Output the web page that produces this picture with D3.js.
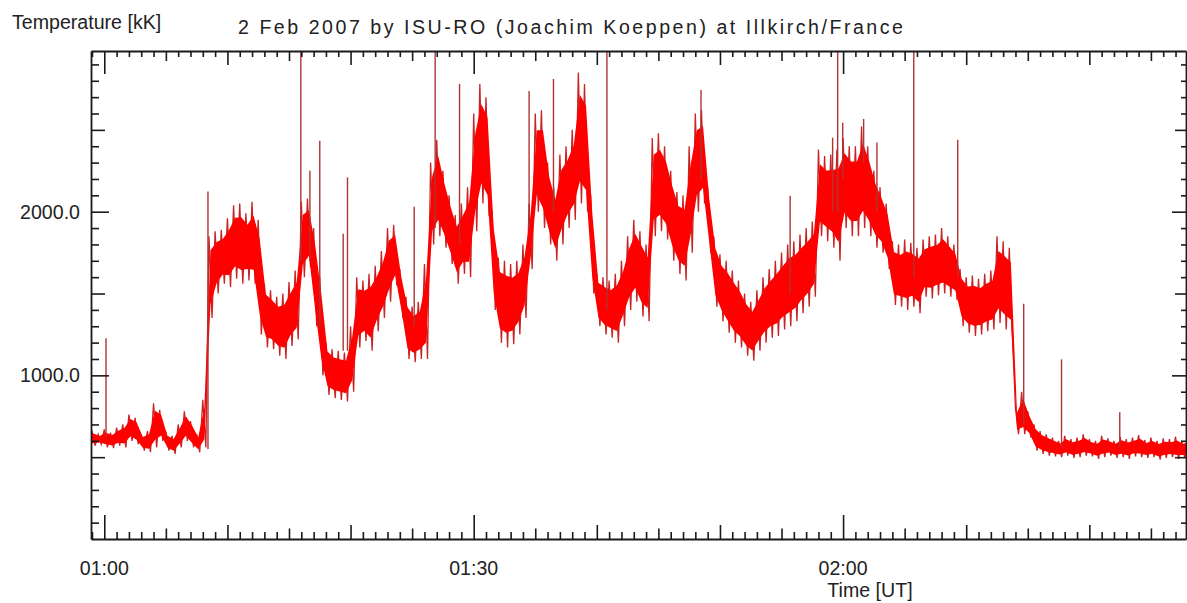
<!DOCTYPE html>
<html>
<head>
<meta charset="utf-8">
<script src="https://cdn.jsdelivr.net/npm/d3@7"></script>
<style>
  html, body { margin: 0; padding: 0; background: #fff; }
  svg { display: block; }
  text { font-family: Arial, "Liberation Sans", sans-serif; fill: #222; }
</style>
</head>
<body>
<svg id="chart" width="1187" height="603"></svg>
<script>
// Sampling instants, minutes after 00:00 UT (every 30 s)
const sampleTimes = [
  58.5, 59.0, 59.5, 60.0, 60.5, 61.0, 61.5, 62.0, 62.5, 63.0, 63.5, 64.0, 64.5, 65.0, 65.5, 66.0, 66.5, 67.0, 67.5, 68.0,
  68.5, 69.0, 69.5, 70.0, 70.5, 71.0, 71.5, 72.0, 72.5, 73.0, 73.5, 74.0, 74.5, 75.0, 75.5, 76.0, 76.5, 77.0, 77.5, 78.0,
  78.5, 79.0, 79.5, 80.0, 80.5, 81.0, 81.5, 82.0, 82.5, 83.0, 83.5, 84.0, 84.5, 85.0, 85.5, 86.0, 86.5, 87.0, 87.5, 88.0,
  88.5, 89.0, 89.5, 90.0, 90.5, 91.0, 91.5, 92.0, 92.5, 93.0, 93.5, 94.0, 94.5, 95.0, 95.5, 96.0, 96.5, 97.0, 97.5, 98.0,
  98.5, 99.0, 99.5, 100.0, 100.5, 101.0, 101.5, 102.0, 102.5, 103.0, 103.5, 104.0, 104.5, 105.0, 105.5, 106.0, 106.5, 107.0, 107.5, 108.0,
  108.5, 109.0, 109.5, 110.0, 110.5, 111.0, 111.5, 112.0, 112.5, 113.0, 113.5, 114.0, 114.5, 115.0, 115.5, 116.0, 116.5, 117.0, 117.5, 118.0,
  118.5, 119.0, 119.5, 120.0, 120.5, 121.0, 121.5, 122.0, 122.5, 123.0, 123.5, 124.0, 124.5, 125.0, 125.5, 126.0, 126.5, 127.0, 127.5, 128.0,
  128.5, 129.0, 129.5, 130.0, 130.5, 131.0, 131.5, 132.0, 132.5, 133.0, 133.5, 134.0, 134.5, 135.0, 135.5, 136.0, 136.5, 137.0, 137.5, 138.0,
  138.5, 139.0, 139.5, 140.0, 140.5, 141.0, 141.5, 142.0, 142.5, 143.0, 143.5, 144.0, 144.5, 145.0, 145.5, 146.0, 146.5, 147.0, 147.5, 148.0
];

// Highest temperature in each 30 s interval [kK]
const upperValues = [
  650, 660, 640, 670, 650, 680, 700, 760, 740, 640, 660, 830, 790, 650, 630, 700, 780, 720, 640, 850,
  1850, 1880, 1890, 1960, 2040, 2050, 1990, 2060, 1950, 1560, 1520, 1480, 1500, 1570, 1640, 2060, 2080, 1900, 1600, 1200,
  1160, 1150, 1140, 1300, 1600, 1580, 1620, 1670, 1760, 1900, 1920, 1650, 1480, 1420, 1450, 1680, 2300, 2440, 2250, 2100,
  1980, 2050, 2150, 2600, 2780, 2700, 2000, 1720, 1700, 1680, 1700, 1800, 2050, 2600, 2620, 2300, 2150, 2350, 2400, 2500,
  2850, 2780, 2100, 1620, 1600, 1580, 1620, 1700, 1850, 1950, 1880, 1800, 2450, 2480, 2400, 2250, 2120, 2100, 2400, 2600,
  2620, 2150, 1850, 1740, 1700, 1640, 1580, 1500, 1450, 1520, 1600, 1650, 1700, 1750, 1800, 1820, 1860, 1900, 1940, 2380,
  2340, 2350, 2380, 2450, 2400, 2400, 2520, 2400, 2250, 2150, 2050, 1820, 1800, 1830, 1810, 1780, 1830, 1850, 1860, 1900,
  1850, 1800, 1650, 1600, 1610, 1590, 1620, 1640, 1850, 1820, 1780, 800, 900, 780, 700, 660, 640, 620, 600, 630,
  610, 620, 640, 610, 600, 630, 615, 600, 625, 610, 620, 635, 605, 620, 600, 615, 610, 625, 600, 610
];

// Lowest temperature in each 30 s interval [kK]
const lowerValues = [
  570, 570, 580, 560, 555, 570, 560, 600, 580, 540, 530, 560, 600, 540, 520, 560, 600, 560, 530, 560,
  1350, 1500, 1560, 1540, 1590, 1560, 1580, 1560, 1250, 1170, 1160, 1120, 1100, 1180, 1220, 1600, 1660, 1300, 1000, 880,
  860, 850, 840, 900, 1170, 1210, 1150, 1270, 1350, 1450, 1550, 1350, 1100, 1080, 1100, 1100, 1800, 1850, 1780, 1680,
  1560, 1620, 1600, 1880, 2050, 1980, 1400, 1200, 1170, 1190, 1250, 1350, 1650, 2000, 1900, 1800, 1700, 1800, 1900, 1950,
  2050, 2000, 1500, 1300, 1250, 1230, 1200, 1300, 1400, 1450, 1360, 1330, 1850, 1880, 1830, 1700, 1620, 1580, 1750, 2000,
  2050, 1750, 1420, 1330, 1260, 1200, 1170, 1120, 1090, 1150, 1200, 1230, 1240, 1280, 1300, 1330, 1380, 1420, 1480, 1850,
  1820, 1780, 1700, 1900, 1850, 1850, 1900, 1850, 1780, 1750, 1650, 1430, 1420, 1400, 1420, 1380, 1480, 1470, 1490, 1500,
  1480, 1460, 1300, 1260, 1240, 1250, 1270, 1280, 1320, 1280, 1250, 640, 640, 620, 540, 520, 510, 505, 500, 510,
  495, 500, 510, 505, 490, 500, 510, 495, 500, 490, 505, 500, 495, 500, 485, 495, 500, 490, 495, 500
];

// Isolated short-lived excursions: time [min], level they start from and peak [kK]
const spikeTimes = [60.14, 68.42, 75.96, 76.70, 77.50, 79.40, 79.75, 85.17, 86.87, 88.85, 94.50, 96.48, 100.82,
                    108.46, 115.70, 119.15, 119.56, 119.97, 121.67, 122.75, 125.74, 129.31, 134.67, 137.74, 142.47];
const spikeBases = [620, 550, 1700, 1700, 1300, 1150, 1150, 1300, 1900, 1800, 1900, 2000, 1400,
                    2200, 1500, 2000, 2000, 2200, 2300, 2000, 1600, 1600, 700, 560, 560];
const spikePeaks = [1226, 2124, 2985, 2250, 2433, 1865, 2210, 2030, 2985, 2781, 2738, 2811, 2985,
                    2744, 2098, 2452, 2985, 2543, 2567, 2423, 2985, 2439, 1437, 1098, 775];

// Axis annotations
const timeLabelMinutes = [60, 90, 120];
const timeLabels = ["01:00", "01:30", "02:00"];
const valueLabelTicks = [1000, 2000];
const valueLabels = ["1000.0", "2000.0"];

const chartTitle = "2 Feb 2007 by ISU-RO (Joachim Koeppen) at Illkirch/France";
const yTitle = "Temperature [kK]";
const xTitle = "Time [UT]";

// ---- layout ----
const plot = { left: 91, right: 1186, top: 51, bottom: 539 };
const svg = d3.select("#chart");

const x = d3.scaleLinear().domain([58.92, 147.85]).range([plot.left, plot.right]);
const y = d3.scaleLinear().domain([0, 2982]).range([plot.bottom, plot.top]);

svg.append("defs").append("clipPath").attr("id", "plotClip")
  .append("rect")
  .attr("x", plot.left).attr("y", plot.top)
  .attr("width", plot.right - plot.left).attr("height", plot.bottom - plot.top);

const data = sampleTimes.map((t, i) => ({ t, hi: upperValues[i], lo: lowerValues[i] }));
const halfStep = 0.25;
const coreInset = 0.17;   // share of each interval's range drawn as thin excursions only

const layer = svg.append("g").attr("clip-path", "url(#plotClip)");

// The trace swinging between the extremes of each interval
const zig = [];
data.forEach(d => {
  zig.push([d.t, d.hi]);
  zig.push([d.t + halfStep, d.lo]);
});
layer.append("path")
  .datum(zig)
  .attr("fill", "none")
  .attr("stroke", "#c82222")
  .attr("stroke-width", 1.3)
  .attr("d", d3.line().x(d => x(d[0])).y(d => y(d[1])));

// Dense core of the fluctuations
layer.append("path")
  .datum(data)
  .attr("fill", "#ff0000")
  .attr("d", d3.area()
    .x(d => x(d.t + halfStep / 2))
    .y0(d => y(d.lo + (d.hi - d.lo) * coreInset))
    .y1(d => y(d.hi - (d.hi - d.lo) * coreInset)));

// Spikes
layer.selectAll("line.spike")
  .data(spikeTimes.map((t, i) => ({ t, base: spikeBases[i], peak: spikePeaks[i] })))
  .join("line")
  .attr("class", "spike")
  .attr("x1", d => x(d.t)).attr("x2", d => x(d.t))
  .attr("y1", d => y(d.base)).attr("y2", d => y(d.peak))
  .attr("stroke", "#b03434")
  .attr("stroke-width", 1.4);

// ---- axes (ticks point into the plot on all four sides) ----
const minuteTicks = d3.range(59, 148);
const tickGroups = [
  { vals: minuteTicks.filter(m => m % 30 === 0), len: 24, lenTop: 23 },
  { vals: minuteTicks.filter(m => m % 10 === 0 && m % 30 !== 0), len: 14, lenTop: 14 },
  { vals: minuteTicks.filter(m => m % 5 === 0 && m % 10 !== 0), len: 10.5, lenTop: 10 },
  { vals: minuteTicks.filter(m => m % 5 !== 0), len: 7, lenTop: 6 }
];
const valueTicks = d3.range(100, 3000, 100);
const valueGroups = [
  { vals: valueTicks.filter(v => v % 1000 === 0), lenL: 18, lenR: 14 },
  { vals: valueTicks.filter(v => v % 500 === 0 && v % 1000 !== 0), lenL: 14, lenR: 11 },
  { vals: valueTicks.filter(v => v % 500 !== 0), lenL: 8, lenR: 5 }
];

function styleAxis(g, keepDomain) {
  g.selectAll("line").attr("stroke", "#1a1a1a").attr("stroke-width", 1.6);
  g.selectAll("path.domain").attr("stroke", "#1a1a1a").attr("stroke-width", 1.8);
  if (!keepDomain) g.select("path.domain").remove();
  g.selectAll("text").remove();
}

tickGroups.forEach((grp, i) => {
  svg.append("g").attr("transform", `translate(0,${plot.bottom})`)
    .call(d3.axisBottom(x).tickValues(grp.vals).tickSize(-grp.len).tickSizeOuter(0).tickFormat(""))
    .call(g => styleAxis(g, i === 0));
  svg.append("g").attr("transform", `translate(0,${plot.top})`)
    .call(d3.axisTop(x).tickValues(grp.vals).tickSize(-grp.lenTop).tickSizeOuter(0).tickFormat(""))
    .call(g => styleAxis(g, i === 0));
});
valueGroups.forEach((grp, i) => {
  svg.append("g").attr("transform", `translate(${plot.left},0)`)
    .call(d3.axisLeft(y).tickValues(grp.vals).tickSize(-grp.lenL).tickSizeOuter(0).tickFormat(""))
    .call(g => styleAxis(g, i === 0));
  svg.append("g").attr("transform", `translate(${plot.right},0)`)
    .call(d3.axisRight(y).tickValues(grp.vals).tickSize(-grp.lenR).tickSizeOuter(0).tickFormat(""))
    .call(g => styleAxis(g, i === 0));
});

// ---- labels ----
const fontSize = 19.6;
svg.append("g").selectAll("text")
  .data(timeLabelMinutes)
  .join("text")
  .attr("x", d => x(d)).attr("y", 575)
  .attr("text-anchor", "middle")
  .attr("font-size", fontSize)
  .text((d, i) => timeLabels[i]);

svg.append("g").selectAll("text")
  .data(valueLabelTicks)
  .join("text")
  .attr("x", plot.left - 11).attr("y", d => y(d))
  .attr("dy", "0.36em")
  .attr("text-anchor", "end")
  .attr("font-size", fontSize)
  .text((d, i) => valueLabels[i]);

// The title is set with wide tracking across the top of the frame
svg.append("text").attr("x", 238).attr("y", 34)
  .attr("font-size", fontSize)
  .attr("textLength", 665).attr("lengthAdjust", "spacing")
  .text(chartTitle);
svg.append("text").attr("x", 12).attr("y", 29)
  .attr("font-size", fontSize).text(yTitle);
svg.append("text").attr("x", 870).attr("y", 597)
  .attr("text-anchor", "middle").attr("font-size", fontSize).text(xTitle);
</script>
</body>
</html>
